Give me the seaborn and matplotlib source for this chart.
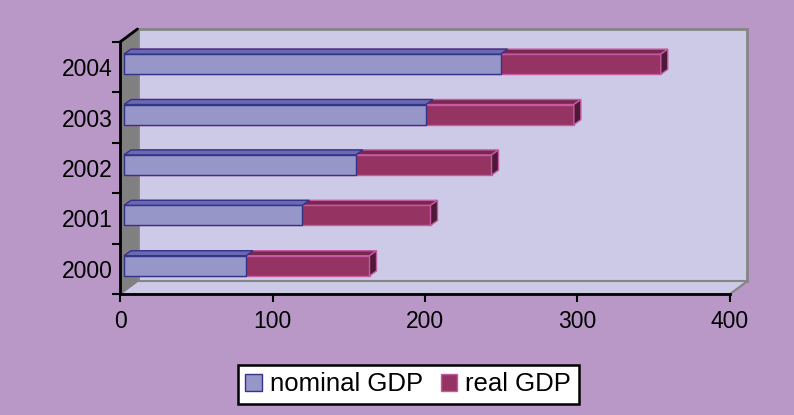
import matplotlib
matplotlib.use('Agg')
import matplotlib.pyplot as plt
import matplotlib.transforms as mtransforms
from matplotlib.patches import Polygon, Patch
import pandas as pd
import seaborn as sns

years = ['2000', '2001', '2002', '2003', '2004']
nominal_gdp = [80, 117, 152, 198, 247]
real_gdp = [81, 84, 89, 97, 105]
x_ticks = [0, 100, 200, 300, 400]

BG = '#B998C7'
WALL = '#CCCAE6'
WALL_EDGE = '#858585'
SIDE = '#808080'
NOM_FACE, NOM_TOP, NOM_EDGE = '#9696C8', '#6A6AB4', '#333388'
REAL_FACE, REAL_TOP, REAL_SIDE, REAL_EDGE = '#953462', '#7A2750', '#4E1936', '#C55AA2'

df = pd.DataFrame({'year': years, 'nominal': nominal_gdp, 'real': real_gdp})
df['total'] = df['nominal'] + df['real']
order = years[::-1]

sns.set_theme(style='white')
plt.rcParams['font.family'] = ['Liberation Sans', 'DejaVu Sans']
plt.rcParams['text.color'] = 'black'
plt.rcParams['xtick.color'] = 'black'
plt.rcParams['ytick.color'] = 'black'

W, H = 794, 415
fig = plt.figure(figsize=(W / 100, H / 100), dpi=100, facecolor=BG)
# front plane of the 3d box, in pixels: x 120..730, y 42..294
ax = fig.add_axes([120 / W, (H - 294) / H, 610 / W, 252 / H])
ax.patch.set_visible(False)

# stacked bars: totals first, nominal on top
sns.barplot(data=df, x='total', y='year', order=order, orient='h', color=REAL_FACE,
            saturation=1, width=0.4, errorbar=None, edgecolor=REAL_EDGE, linewidth=1, ax=ax)
n_real = len(ax.patches)
sns.barplot(data=df, x='nominal', y='year', order=order, orient='h', color=NOM_FACE,
            saturation=1, width=0.4, errorbar=None, edgecolor=NOM_EDGE, linewidth=1, ax=ax)

ax.set_xlim(0, 400)
ax.set_ylim(len(years) - 0.5, -0.5)

# depth of the box and of the bars, in pixels (display, y up)
depth = (17.5, 13)
bar_shift = (4, 3)
bar_depth = (7, 5)
dxa, dya = depth[0] / 610, depth[1] / 252

inv = ax.transData.inverted()
x0, y0 = inv.transform((0, 0))
x1, y1 = inv.transform(bar_depth)
bdx, bdy = x1 - x0, y1 - y0
shift = ax.transData + mtransforms.ScaledTranslation(bar_shift[0] / 100, bar_shift[1] / 100,
                                                     fig.dpi_scale_trans)

bars = list(ax.patches)
for i, p in enumerate(bars):
    real = i < n_real
    p.set_transform(shift)
    p.set_zorder(3 if real else 5)
    bx, by, bw, bh = p.get_x(), p.get_y(), p.get_width(), p.get_height()
    ytop = min(by, by + bh)
    ybot = max(by, by + bh)
    top = Polygon([(bx, ytop), (bx + bw, ytop), (bx + bw + bdx, ytop + bdy), (bx + bdx, ytop + bdy)],
                  closed=True, facecolor=REAL_TOP if real else NOM_TOP,
                  edgecolor=REAL_EDGE if real else NOM_EDGE, linewidth=1,
                  transform=shift, zorder=3.5 if real else 5.5)
    ax.add_patch(top)
    if real:
        side = Polygon([(bx + bw, ytop), (bx + bw, ybot), (bx + bw + bdx, ybot + bdy),
                        (bx + bw + bdx, ytop + bdy)],
                       closed=True, facecolor=REAL_SIDE, edgecolor=REAL_EDGE, linewidth=1,
                       transform=shift, zorder=3.6)
        ax.add_patch(side)

# walls and floor
tr = ax.transAxes
ax.add_patch(Polygon([(dxa, dya), (1 + dxa, dya), (1 + dxa, 1 + dya), (dxa, 1 + dya)], closed=True,
                     facecolor=WALL, edgecolor=WALL_EDGE, linewidth=2, transform=tr, zorder=0,
                     clip_on=False))
ax.add_patch(Polygon([(0, 0), (1, 0), (1 + dxa, dya), (dxa, dya)], closed=True,
                     facecolor=WALL, edgecolor=WALL_EDGE, linewidth=1.5, transform=tr, zorder=0.5,
                     clip_on=False))
ax.add_patch(Polygon([(0, 0), (0, 1), (dxa, 1 + dya), (dxa, dya)], closed=True,
                     facecolor=SIDE, edgecolor=SIDE, linewidth=1, transform=tr, zorder=0.5,
                     clip_on=False))
ax.plot([0, dxa], [1, 1 + dya], color='black', lw=2, transform=tr, clip_on=False, zorder=6)

for s in ['top', 'right']:
    ax.spines[s].set_visible(False)
for s in ['left', 'bottom']:
    ax.spines[s].set_color('black')
    ax.spines[s].set_linewidth(2)
    ax.spines[s].set_zorder(6)

ax.set_xticks(x_ticks)
ax.set_xticklabels([str(t) for t in x_ticks])
ax.set_yticks([i - 0.5 for i in range(len(years) + 1)])
ax.set_yticklabels([])
ax.set_yticks(range(len(years)), minor=True)
ax.set_yticklabels(order, minor=True)
ax.tick_params(axis='x', which='major', direction='out', length=6, width=1.5, colors='black',
               labelsize=16.5, pad=5.5, bottom=True)
ax.tick_params(axis='y', which='major', direction='out', length=6, width=1.5, colors='black', left=True)
ax.tick_params(axis='y', which='minor', length=0, labelsize=16.5, pad=5, labelcolor='black')
ax.set_xlabel('')
ax.set_ylabel('')
ax.grid(False)

handles = [Patch(facecolor=NOM_FACE, edgecolor=NOM_EDGE, label='nominal GDP'),
           Patch(facecolor=REAL_FACE, edgecolor=REAL_EDGE, label='real GDP')]
leg = fig.legend(handles=handles, loc='center', bbox_to_anchor=(0.514, 0.0735), ncol=2,
                 fontsize=18.5, frameon=True, fancybox=False, framealpha=1, edgecolor='black',
                 facecolor='white', handlelength=0.65, handleheight=0.65, handletextpad=0.3,
                 columnspacing=0.7, borderpad=0.3)
leg.get_frame().set_linewidth(1.8)
for t in leg.get_texts():
    t.set_color('black')

fig.savefig('out.png', dpi=100, facecolor=BG)
